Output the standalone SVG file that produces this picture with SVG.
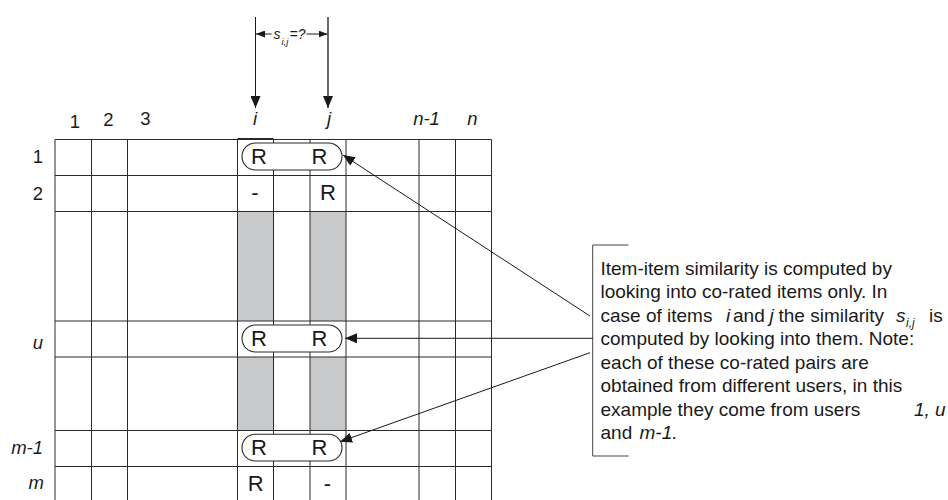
<svg xmlns="http://www.w3.org/2000/svg" width="948" height="500" viewBox="0 0 948 500">
  <style>
    .lbl { font-family: "Liberation Sans", Arial, sans-serif; font-size: 18.5px; fill: #1a1a1a; }
    .it { font-style: italic; }
    .cell { font-family: "Liberation Sans", Arial, sans-serif; font-size: 22px; fill: #1a1a1a; text-anchor: middle; }
    .note { font-family: "Liberation Sans", Arial, sans-serif; font-size: 19px; fill: #1a1a1a; }
    .dim { font-family: "Liberation Sans", Arial, sans-serif; font-size: 14px; font-style: italic; fill: #1a1a1a; }
    .grid line { stroke: #2a2a2a; stroke-width: 1; }
    .shade { fill: #c8c9cb; }
    .pill { fill: #ffffff; stroke: #2a2a2a; stroke-width: 1.1; }
    .conn { stroke: #1a1a1a; stroke-width: 1; fill: none; }
  </style>
  <defs>
    <marker id="ah" viewBox="0 0 12 10" refX="12" refY="5" markerWidth="12" markerHeight="10" markerUnits="userSpaceOnUse" orient="auto">
      <path d="M0,0 L12,5 L0,10 Z" fill="#1a1a1a"/>
    </marker>
    <marker id="ahs" viewBox="0 0 9 7" refX="9" refY="3.5" markerWidth="9" markerHeight="7" markerUnits="userSpaceOnUse" orient="auto">
      <path d="M0,0 L9,3.5 L0,7 Z" fill="#1a1a1a"/>
    </marker>
  </defs>

  <rect width="948" height="500" fill="#ffffff"/>

  <g id="matrix">
    <g id="shading">
      <rect class="shade" x="237.5" y="211.5" width="36" height="109.5"/>
      <rect class="shade" x="310" y="211.5" width="36" height="109.5"/>
      <rect class="shade" x="237.5" y="357" width="36" height="73.5"/>
      <rect class="shade" x="310" y="357" width="36" height="73.5"/>
    </g>
    <g class="grid">
      <line x1="55" y1="139.5" x2="491.5" y2="139.5"/>
      <line x1="55" y1="175.5" x2="491.5" y2="175.5"/>
      <line x1="55" y1="211.5" x2="491.5" y2="211.5"/>
      <line x1="55" y1="321" x2="491.5" y2="321"/>
      <line x1="55" y1="357" x2="491.5" y2="357"/>
      <line x1="55" y1="430.5" x2="491.5" y2="430.5"/>
      <line x1="55" y1="466.5" x2="491.5" y2="466.5"/>
      <line x1="55" y1="139.5" x2="55" y2="500"/>
      <line x1="91.5" y1="139.5" x2="91.5" y2="500"/>
      <line x1="127.5" y1="139.5" x2="127.5" y2="500"/>
      <line x1="237.5" y1="139.5" x2="237.5" y2="500"/>
      <line x1="273.5" y1="139.5" x2="273.5" y2="500"/>
      <line x1="310" y1="139.5" x2="310" y2="500"/>
      <line x1="346" y1="139.5" x2="346" y2="500"/>
      <line x1="419" y1="139.5" x2="419" y2="500"/>
      <line x1="455.5" y1="139.5" x2="455.5" y2="500"/>
      <line x1="491.5" y1="139.5" x2="491.5" y2="500"/>
      <line x1="237.5" y1="139" x2="273.5" y2="139" style="stroke-width:1.8"/>
    </g>
  </g>

  <g id="col-labels" class="lbl" text-anchor="middle">
    <text x="75" y="128">1</text>
    <text x="108.5" y="126">2</text>
    <text x="145.5" y="125">3</text>
    <text x="255" y="125" class="it">i</text>
    <text x="329" y="125" class="it">j</text>
    <text x="426.5" y="125" class="it">n-1</text>
    <text x="472.5" y="125" class="it">n</text>
  </g>

  <g id="row-labels" class="lbl" text-anchor="end">
    <text x="43" y="163">1</text>
    <text x="43" y="199.5">2</text>
    <text x="43" y="348.5" class="it">u</text>
    <text x="43" y="453.5" class="it">m-1</text>
    <text x="44" y="488.5" class="it">m</text>
  </g>

  <g id="pair-row1">
    <rect class="pill" x="242" y="143" width="100" height="27" rx="13.5"/>
    <text class="cell" x="259" y="164.3">R</text>
    <text class="cell" x="319.5" y="164.3">R</text>
  </g>
  <g id="row2-cells">
    <text class="cell" x="255" y="199.5">-</text>
    <text class="cell" x="328" y="199.5">R</text>
  </g>
  <g id="pair-rowu">
    <rect class="pill" x="242" y="325" width="100" height="27" rx="13.5"/>
    <text class="cell" x="259" y="346">R</text>
    <text class="cell" x="319.5" y="346">R</text>
  </g>
  <g id="pair-rowm1">
    <rect class="pill" x="242" y="434.3" width="100" height="26.7" rx="13.3"/>
    <text class="cell" x="259" y="455.3">R</text>
    <text class="cell" x="319.5" y="455.3">R</text>
  </g>
  <g id="rowm-cells">
    <text class="cell" x="255.7" y="490.7">R</text>
    <text class="cell" x="327.5" y="490.7">-</text>
  </g>

  <g id="similarity-label">
    <text class="dim" x="273.5" y="38.5">s</text>
    <text class="dim" x="281.5" y="45" style="font-size:9.5px">i,j</text>
    <text class="dim" x="289.5" y="38.5">=?</text>
  </g>

  <g id="note">
    <path class="conn" d="M628.5,245 H592.7 V456 H628.5" style="stroke:#444"/>
    <text class="note" x="600.5" y="274.5">Item-item similarity is computed by</text>
    <text class="note" x="600.5" y="298">looking into co-rated items only. In</text>
    <text class="note" y="321.5"><tspan x="600.5">case of items</tspan><tspan x="726" class="it">i</tspan><tspan x="733">and</tspan><tspan x="769.5" class="it">j</tspan><tspan x="778.5">the similarity</tspan><tspan x="896" class="it">s</tspan><tspan x="906" dy="5" class="it" style="font-size:12px">i,j</tspan><tspan x="929" dy="-5">is</tspan></text>
    <text class="note" x="600.5" y="345">computed by looking into them. Note:</text>
    <text class="note" x="600.5" y="368.5">each of these co-rated pairs are</text>
    <text class="note" x="600.5" y="392">obtained from different users, in this</text>
    <text class="note" y="415.5"><tspan x="600.5">example they come from users</tspan><tspan x="914" class="it">1, u</tspan></text>
    <text class="note" y="439"><tspan x="600.5">and</tspan><tspan x="639.5" class="it">m-1.</tspan></text>
  </g>

  <g id="connectors">
    <line class="conn" x1="255.5" y1="17" x2="255.5" y2="108" marker-end="url(#ah)"/>
    <line class="conn" x1="328" y1="17" x2="328" y2="108" marker-end="url(#ah)" style="stroke-width:1.3"/>
    <line class="conn" x1="271.5" y1="34" x2="256" y2="34" marker-end="url(#ahs)"/>
    <line class="conn" x1="306.5" y1="34" x2="327.5" y2="34" marker-end="url(#ahs)"/>
    <line class="conn" x1="590" y1="316" x2="343" y2="155" marker-end="url(#ah)"/>
    <line class="conn" x1="592.7" y1="338.3" x2="345" y2="338.3" marker-end="url(#ah)"/>
    <line class="conn" x1="590" y1="352.7" x2="340" y2="441.7" marker-end="url(#ah)"/>
  </g>
</svg>
